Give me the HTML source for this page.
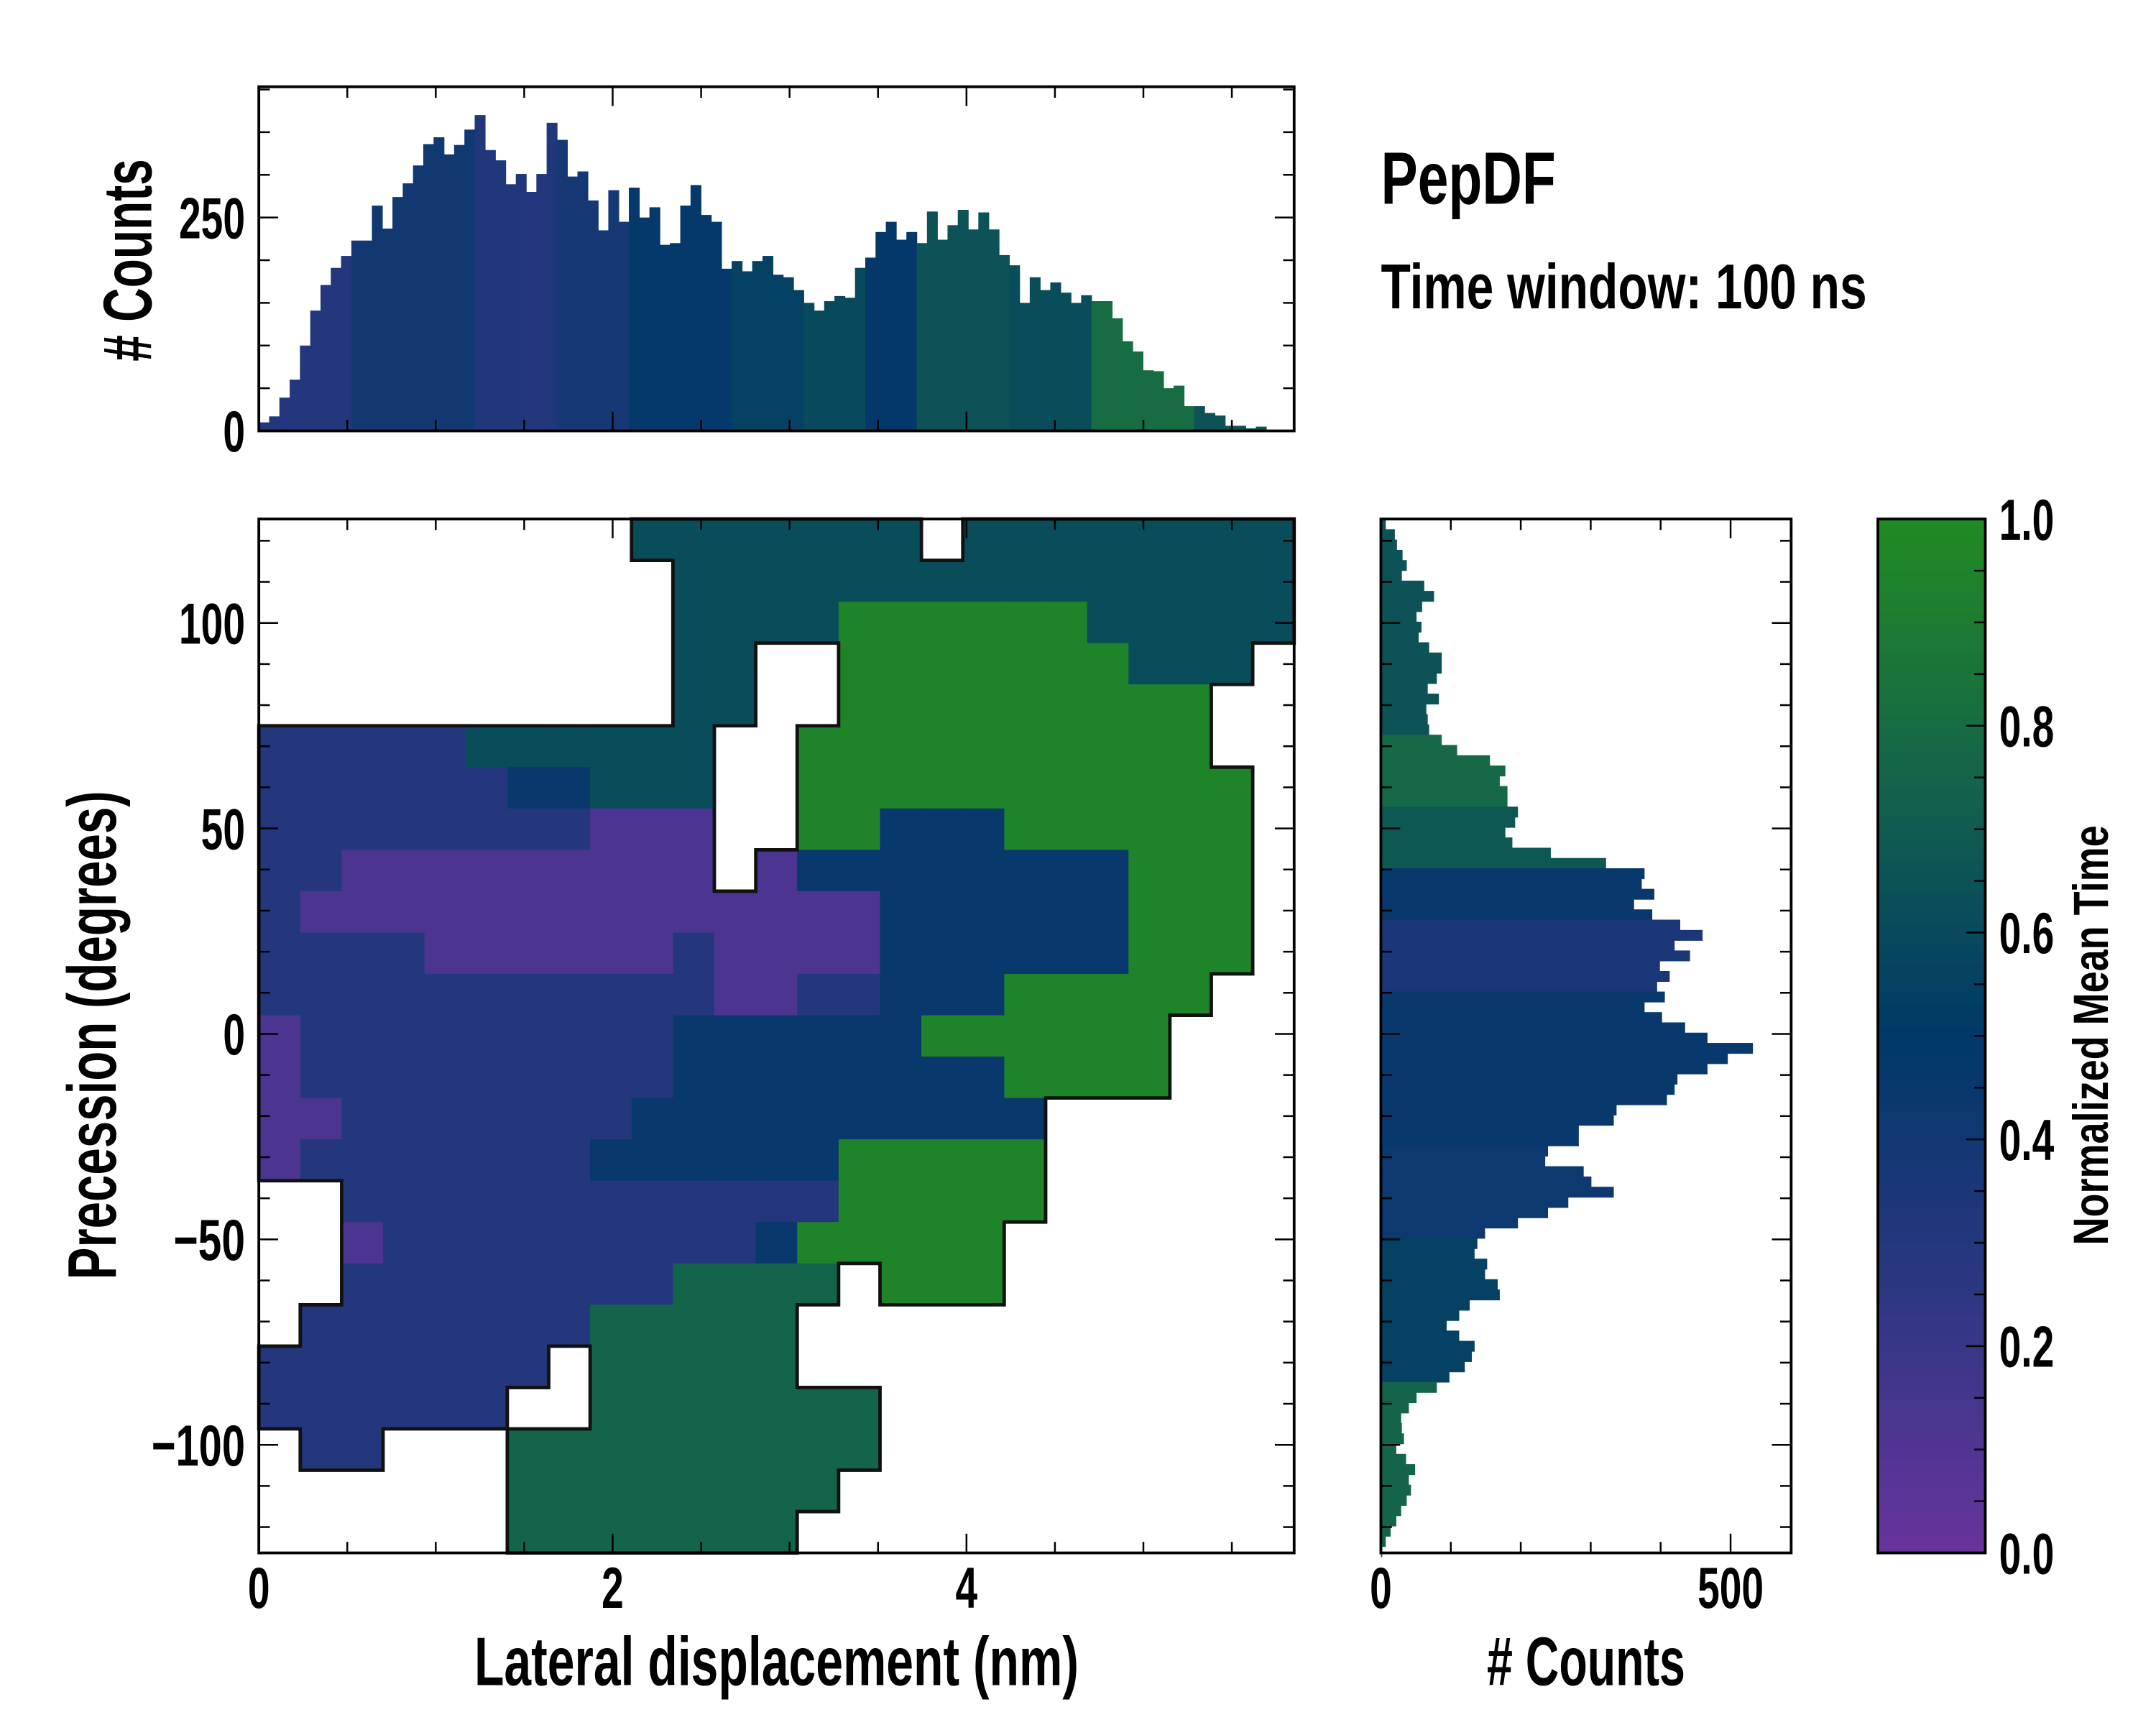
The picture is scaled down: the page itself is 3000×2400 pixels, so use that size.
<!DOCTYPE html>
<html><head><meta charset="utf-8">
<style>
html,body{margin:0;padding:0;background:#fff;}
svg{display:block;}
text{font-family:"Liberation Sans Narrow","Liberation Sans",sans-serif;font-weight:bold;fill:#000;}
</style></head>
<body>
<svg id="fig" xmlns="http://www.w3.org/2000/svg" width="3000" height="2400" viewBox="0 0 1566 1253" preserveAspectRatio="none">
<rect x="0" y="0" width="1566" height="1253" fill="#fff"/>
<g id="heat"></g>
<g id="topHist"></g>
<g id="rightHist"></g>
<g id="cbar"></g>
<g id="axes"></g>
<text x="1003" y="148" font-size="54" textLength="127" lengthAdjust="spacingAndGlyphs">PepDF</text>
<text x="1003" y="224" font-size="46" textLength="353" lengthAdjust="spacingAndGlyphs">Time window: 100 ns</text>
<text x="564" y="1224" font-size="50" text-anchor="middle" textLength="439" lengthAdjust="spacingAndGlyphs">Lateral displacement (nm)</text>
<text x="1152" y="1224" font-size="50" text-anchor="middle" textLength="144" lengthAdjust="spacingAndGlyphs"># Counts</text>
<text transform="translate(84,752) rotate(-90)" font-size="50" text-anchor="middle" textLength="355" lengthAdjust="spacingAndGlyphs">Precession (degrees)</text>
<text transform="translate(110,189) rotate(-90)" font-size="50" text-anchor="middle" textLength="147" lengthAdjust="spacingAndGlyphs"># Counts</text>
<text transform="translate(1531,752) rotate(-90)" font-size="36" text-anchor="middle" textLength="305" lengthAdjust="spacingAndGlyphs">Normalized Mean Time</text>
</svg>
<script>
// ---------- data ----------
const topCounts = [10,17,39,60,100,141,171,191,205,223,223,264,237,274,290,311,336,344,324,335,353,370,329,317,289,301,280,301,361,341,298,304,270,235,282,245,285,250,262,218,220,264,288,253,245,190,199,187,199,205,183,180,165,150,141,152,158,156,191,203,233,245,224,233,220,257,224,241,259,236,256,236,206,194,150,180,165,174,162,150,159,152,152,132,105,93,71,70,50,53,29,29,21,18,6,6,3,5,0];
const topMeanTime = [0.3,0.3,0.3,0.3,0.3,0.3,0.3,0.3,0.3,0.4,0.4,0.4,0.4,0.4,0.4,0.4,0.4,0.4,0.4,0.4,0.4,0.32,0.32,0.32,0.32,0.32,0.3,0.3,0.32,0.38,0.38,0.38,0.38,0.38,0.38,0.38,0.47,0.47,0.47,0.47,0.47,0.47,0.47,0.47,0.47,0.47,0.55,0.55,0.55,0.55,0.55,0.55,0.55,0.6,0.6,0.6,0.6,0.6,0.6,0.48,0.48,0.48,0.48,0.48,0.65,0.65,0.65,0.65,0.65,0.65,0.65,0.65,0.65,0.62,0.62,0.62,0.62,0.62,0.62,0.62,0.62,0.8,0.8,0.8,0.8,0.8,0.8,0.8,0.8,0.8,0.8,0.65,0.65,0.65,0.65,0.65,0.65,0.65,0.65];
const topBinStart = 0, topBinWidth = 0.0581;

const rightCounts = [7,20,23,31,37,30,62,76,59,51,58,54,69,87,87,80,67,83,65,67,69,87,109,156,178,170,181,181,196,192,178,188,243,322,377,373,391,362,388,428,460,420,442,399,413,395,406,377,402,435,467,532,496,467,424,420,409,337,333,283,283,239,235,290,301,333,268,239,196,149,138,134,152,149,167,170,127,112,94,112,134,130,120,98,80,51,40,29,30,33,22,36,49,40,43,37,29,22,14,7,2];
const rightMeanTime = [0.65,0.65,0.65,0.65,0.65,0.65,0.65,0.65,0.65,0.65,0.65,0.65,0.65,0.65,0.65,0.65,0.65,0.65,0.65,0.65,0.65,0.78,0.78,0.78,0.78,0.78,0.78,0.78,0.68,0.68,0.68,0.68,0.68,0.68,0.45,0.45,0.45,0.45,0.45,0.35,0.35,0.35,0.35,0.35,0.35,0.35,0.45,0.45,0.45,0.45,0.45,0.45,0.45,0.45,0.45,0.45,0.45,0.45,0.45,0.45,0.45,0.42,0.42,0.42,0.42,0.42,0.42,0.42,0.42,0.42,0.55,0.55,0.55,0.55,0.55,0.55,0.55,0.55,0.55,0.55,0.55,0.55,0.55,0.55,0.75,0.75,0.75,0.75,0.75,0.75,0.75,0.75,0.75,0.75,0.75,0.75,0.75,0.75,0.75,0.75,0.75];
const rightBinStart = 125.3, rightBinWidth = 2.5;

const heatRows = [
".........ttttttt.tttttttt",
"..........ttttttttttttttt",
"..........ttttggggggttttt",
"..........tt..gggggggttt.",
"..........tt..ggggggggg..",
"bbbbbtttttt..gggggggggg..",
"bbbbbbnnttt..ggggggggggg.",
"bbbbbbbbppp..ggnnngggggg.",
"bbppppppppp.pnnnnnnnnggg.",
"bppppppppppppppnnnnnnggg.",
"bbbbppppppbppppnnnnnnggg.",
"bbbbbbbbbbbppbbnnnggggg..",
"pbbbbbbbbbnnnnnngggggg...",
"pbbbbbbbbbnnnnnnnngggg...",
"ppbbbbbbbnnnnnnnnnn......",
"pbbbbbbbnnnnnnggggg......",
"..bbbbbbbbbbbbggggg......",
"..pbbbbbbbbbnggggg.......",
"..bbbbbbbbdddd.ggg.......",
".bbbbbbbddddd............",
"bbbbbbb.ddddd............",
"bbbbbb..ddddddd..........",
".bb...ddddddddd..........",
"......dddddddd...........",
"......ddddddd............"
];
const classNames = ["p","b","n","t","d","g"];
const classValues = [0.12,0.3,0.45,0.62,0.75,0.95];
const gridX0 = 0, gridDX = 5.852/25, gridY0 = 125.3, gridDY = 251.6/25;

const xTickLabels = [0,2,4];
const yTickLabels = [100,50,0,-50,-100];
const topYTickLabels = [0,250];
const rightXTickLabels = [0,500];
const cbarTickLabels = [0.0,0.2,0.4,0.6,0.8,1.0];

// ---------- scales ----------
const PL=188, PR=940, PT=377, PB=1128;
const xs = v => PL + v*128.5;
const ys = v => 751 - v*2.985;
const TT=63, TB=313;
const ysTop = c => TB - c*0.62;
const RL=1003, RR=1301;
const xr = c => RL + c*0.508;
const CL=1364, CR=1442;
const yc = v => PB - v*(PB-PT);

const stops=[[0,[104,52,156]],[0.25,[45,55,130]],[0.5,[0,56,104]],[0.75,[20,100,75]],[1,[34,139,34]]];
function cmap(v){v=Math.max(0,Math.min(1,v));for(let i=1;i<stops.length;i++){if(v<=stops[i][0]){const a=stops[i-1],b=stops[i];const t=(v-a[0])/(b[0]-a[0]);const c=a[1].map((q,k)=>Math.round(q+(b[1][k]-q)*t));return `rgb(${c[0]},${c[1]},${c[2]})`;}}return "rgb(34,139,34)";}

const NS="http://www.w3.org/2000/svg";
function mk(tag,attrs,parent){const e=document.createElementNS(NS,tag);for(const k in attrs)e.setAttribute(k,attrs[k]);parent.appendChild(e);return e;}

// ---------- heatmap ----------
const heat=document.getElementById('heat');
const nR=heatRows.length, nC=heatRows[0].length;
const filled=(r,c)=>r>=0&&r<nR&&c>=0&&c<nC&&heatRows[r][c]!=='.';
let outline="";
for(let r=0;r<nR;r++){for(let c=0;c<nC;c++){
  const ch=heatRows[r][c]; if(ch==='.')continue;
  const v=classValues[classNames.indexOf(ch)];
  const x0=xs(gridX0+c*gridDX), x1=xs(gridX0+(c+1)*gridDX);
  const y0=ys(gridY0-r*gridDY), y1=ys(gridY0-(r+1)*gridDY);
  const cell=mk('rect',{x:x0,y:y0,width:x1-x0+0.5,height:y1-y0+0.5,fill:cmap(v)},heat);
  
  
  if(!filled(r-1,c))outline+=`M${x0},${y0}H${x1}`;
  if(!filled(r+1,c))outline+=`M${x0},${y1}H${x1}`;
  if(!filled(r,c-1))outline+=`M${x0},${y0}V${y1}`;
  if(!filled(r,c+1))outline+=`M${x1},${y0}V${y1}`;
}}
const ol=mk('path',{d:outline,fill:'none',stroke:'#111','stroke-width':2.5,'stroke-linecap':'square'},heat);



// ---------- top histogram ----------
const th=document.getElementById('topHist');
topCounts.forEach((c,i)=>{
  const x0=xs(topBinStart+i*topBinWidth), x1=xs(topBinStart+(i+1)*topBinWidth);
  const b=mk('rect',{x:x0,y:ysTop(c),width:x1-x0+0.4,height:TB-ysTop(c),fill:cmap(topMeanTime[i])},th);
  
  
});

// ---------- right histogram ----------
const rh=document.getElementById('rightHist');
rightCounts.forEach((c,i)=>{
  const y0=ys(rightBinStart-i*rightBinWidth), y1=ys(rightBinStart-(i+1)*rightBinWidth);
  const b=mk('rect',{x:RL,y:y0,width:xr(c)-RL,height:y1-y0+0.4,fill:cmap(rightMeanTime[i])},rh);
  
  
});

// ---------- colorbar ----------
const cb=document.getElementById('cbar');
for(let i=0;i<100;i++){
  const v0=i/100, v1=(i+1)/100;
  const s=mk('rect',{x:CL,y:yc(v1),width:CR-CL,height:yc(v0)-yc(v1)+0.5,fill:cmap((v0+v1)/2)},cb);
  
  
}

// ---------- axes ----------
const ax=document.getElementById('axes');
function frame(x0,y0,x1,y1,name){const f=mk('rect',{x:x0,y:y0,width:x1-x0,height:y1-y0,fill:'none',stroke:'#000','stroke-width':2},ax);
  
  }
function tick(x1,y1,x2,y2){const t=mk('line',{x1,y1,x2,y2,stroke:'#000','stroke-width':1.3},ax);
  
  }
function label(x,y,txt,anchor,size){
  let w=0;for(const ch of txt){w+= ch==='.'?8:(ch==='\u2212'?20:16);}
  const t=mk('text',{x,y,'text-anchor':anchor,'font-size':size||42,textLength:w,lengthAdjust:'spacingAndGlyphs'},ax);t.textContent=txt;
  
  }

frame(PL,PT,PR,PB,'main-plot-frame');
frame(PL,TT,PR,TB,'top-hist-frame');
frame(RL,PT,RR,PB,'right-hist-frame');
frame(CL,PT,CR,PB,'colorbar-frame');

for(let v=0;v<=5.85;v+=0.5){const x=xs(v);const maj=Math.abs(v%2)<1e-6;const L=maj?14:8;
  tick(x,PB,x,PB-L);tick(x,PT,x,PT+L);tick(x,TB,x,TB-L);tick(x,TT,x,TT+L);}
xTickLabels.forEach(v=>label(xs(v),1168,String(v),'middle',42));
for(let v=-120;v<=120;v+=10){const y=ys(v);const maj=v%50===0;const L=maj?14:8;
  tick(PL,y,PL+L,y);tick(PR,y,PR-L,y);tick(RL,y,RL+L,y);tick(RR,y,RR-L,y);}
yTickLabels.forEach(v=>label(178,ys(v)+15,String(v).replace('-','\u2212'),'end',42));
for(let c=0;c<=400;c+=50){const y=ysTop(c);if(y<TT)break;const L=c%250===0?14:8;
  tick(PL,y,PL+L,y);tick(PR,y,PR-L,y);}
topYTickLabels.forEach(c=>label(178,ysTop(c)+15,String(c),'end',42));
for(let c=0;c<=580;c+=100){const x=xr(c);const L=c%500===0?14:8;
  tick(x,PB,x,PB-L);tick(x,PT,x,PT+L);}
rightXTickLabels.forEach(c=>label(xr(c),1168,String(c),'middle',42));
for(let i=0;i<=20;i++){const v=i/20;const y=yc(v);const L=i%4===0?14:8;tick(CR,y,CR-L,y);}
cbarTickLabels.forEach(v=>label(1452,yc(v)+15,v.toFixed(1),'start',42));
</script>
</body></html>
